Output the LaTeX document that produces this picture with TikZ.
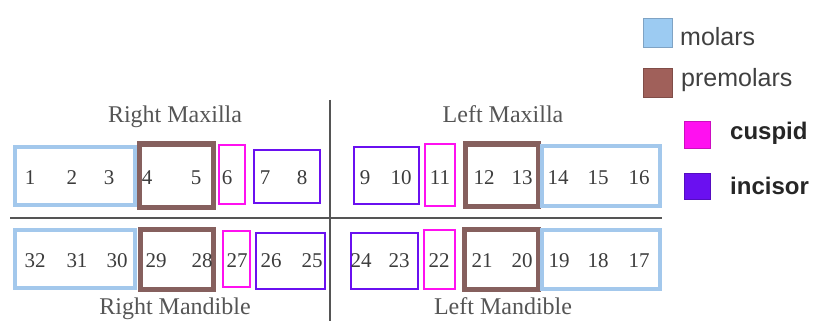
\documentclass[tikz,border=0pt]{standalone}
\usepackage{fontspec}
\setmainfont{Liberation Serif}
\newfontfamily\legfont{Liberation Sans}
\definecolor{molc}{HTML}{A3C8EC}
\definecolor{molfill}{HTML}{9CCBF2}
\definecolor{molbd}{HTML}{7FA3C4}
\definecolor{prec}{HTML}{86605E}
\definecolor{prefill}{HTML}{A0605A}
\definecolor{cusc}{HTML}{FF10F0}
\definecolor{incc}{HTML}{6A10F0}
\definecolor{txtc}{HTML}{3C3C3C}
\definecolor{axc}{HTML}{555555}
\tikzset{
  molbox/.style={draw=molc, line width=4.5pt},
  prebox/.style={draw=prec, line width=5pt},
  cusbox/.style={draw=cusc, line width=2.8pt},
  incbox/.style={draw=incc, line width=2.8pt},
  num/.style={text=txtc, font=\fontsize{21}{21}\selectfont, inner sep=0pt},
  jaw/.style={text=axc, font=\fontsize{24}{24}\selectfont, inner sep=0pt, anchor=base},
  legtxt/.style={text=black!75, font=\legfont\fontsize{25}{25}\selectfont, inner sep=0pt, anchor=west},
  legbold/.style={text=black!85, font=\legfont\bfseries\fontsize{24}{24}\selectfont, inner sep=0pt, anchor=west},
  axis/.style={draw=axc, line width=1.8pt}
}
\begin{document}
\begin{tikzpicture}[x=1pt,y=-1pt]
\useasboundingbox (0,0) rectangle (815,321);
% boxes top row
\draw[molbox] (15,147) rectangle (135,205);
\draw[prebox] (139,144) rectangle (213,207);
\draw[cusbox] (219,145) rectangle (245,204);
\draw[incbox] (254,150) rectangle (320,203);
\draw[incbox] (354,147) rectangle (419,204);
\draw[cusbox] (425,144) rectangle (455,206);
\draw[prebox] (465,144) rectangle (538,206);
\draw[molbox] (542,146) rectangle (660,206);
% boxes bottom row
\draw[molbox] (15,230) rectangle (135,288);
\draw[prebox] (140,229) rectangle (213,289);
\draw[cusbox] (223,231) rectangle (250,287);
\draw[incbox] (256,233) rectangle (325,289);
\draw[incbox] (351,233) rectangle (418,289);
\draw[cusbox] (424,230) rectangle (455,289);
\draw[prebox] (464,229) rectangle (538,289);
\draw[molbox] (542,230) rectangle (660,289);
% axes
\coordinate (vt) at (330,100);
\coordinate (vb) at (330,321);
\coordinate (hl) at (10,218);
\coordinate (hr) at (662,218);
\draw[axis] (vt) -- (vb);
\draw[axis] (hl) -- (hr);
% numbers top
\foreach \n/\x in {1/30,2/72,3/109,4/147,5/196,6/227,7/265,8/302,9/365,10/401,11/440,12/484,13/522,14/558,15/598,16/639}
  \node[num] (t\n) at (\x,178) {\n};
\foreach \n/\x in {32/35,31/77,30/117,29/156,28/202,27/237,26/271,25/312,24/361,23/399,22/439,21/482,20/522,19/559,18/598,17/639}
  \node[num] (b\n) at (\x,261) {\n};
% jaw labels
\node[jaw] (rmx) at (175,123) {Right Maxilla};
\node[jaw] (lmx) at (503,123) {Left Maxilla};
\node[jaw] (rmd) at (175,314) {Right Mandible};
\node[jaw] (lmd) at (503,314) {Left Mandible};
% legend
\node[draw=molbd, fill=molfill, line width=1.5pt, minimum width=29pt, minimum height=29pt, inner sep=0pt] (lm) at (658,33) {};
\node[legtxt] (lmt) at (680,37) {molars};
\node[draw=prefill!80!black, fill=prefill, line width=1.5pt, minimum width=29pt, minimum height=29pt, inner sep=0pt] (lp) at (658,83) {};
\node[legtxt] (lpt) at (681,80) {premolars};
\node[draw=cusc!80!black, fill=cusc, line width=1pt, minimum width=26pt, minimum height=26pt, inner sep=0pt] (lc) at (697,135) {};
\node[legbold] (lct) at (730,133) {cuspid};
\node[draw=incc!80!black, fill=incc, line width=1pt, minimum width=26pt, minimum height=26pt, inner sep=0pt] (li) at (697,186) {};
\node[legbold] (lit) at (730,186) {incisor};
\end{tikzpicture}
\end{document}
